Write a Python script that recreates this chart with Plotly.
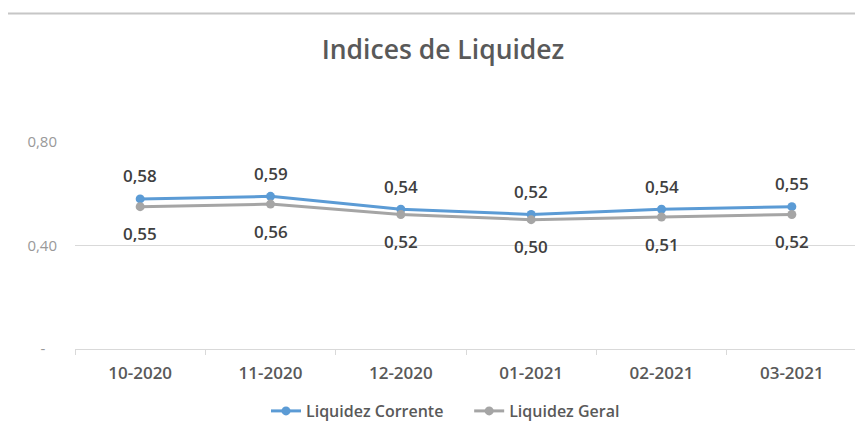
import plotly.graph_objects as go

categories = ["10-2020", "11-2020", "12-2020", "01-2021", "02-2021", "03-2021"]
liquidez_corrente = [0.58, 0.59, 0.54, 0.52, 0.54, 0.55]
liquidez_geral = [0.55, 0.56, 0.52, 0.50, 0.51, 0.52]
y_tickvals = [0, 0.4, 0.8]
y_ticktext = ["-\u00a0\u00a0\u00a0", "0,40", "0,80"]

BLUE = "#5B9BD5"
GRAY = "#A5A5A5"
FONT = "Open Sans"

# figure is offset by the page body's 8px margin, so size it accordingly
W, H = 855, 429
L, T = 67, 134
PW, PH = 782, 207

fig = go.Figure()
fig.add_trace(go.Scatter(x=categories, y=liquidez_corrente,
                         name="Liquidez Corrente" + "\u00a0" * 5,
                         mode="lines+markers", line=dict(color=BLUE, width=3),
                         marker=dict(color=BLUE, size=9)))
fig.add_trace(go.Scatter(x=categories, y=liquidez_geral, name="Liquidez Geral",
                         mode="lines+markers", line=dict(color=GRAY, width=3),
                         marker=dict(color=GRAY, size=9)))

annotations = []
for c, v in zip(categories, liquidez_corrente):
    annotations.append(dict(x=c, y=v, text=f"{v:.2f}".replace(".", ","), showarrow=False,
                            yshift=23, font=dict(family=FONT, size=17, color="#404040", weight=600)))
for c, v in zip(categories, liquidez_geral):
    annotations.append(dict(x=c, y=v, text=f"{v:.2f}".replace(".", ","), showarrow=False,
                            yshift=-27, font=dict(family=FONT, size=17, color="#404040", weight=600)))

fig.update_layout(
    width=W, height=H,
    margin=dict(l=L, r=W - L - PW, t=T, b=H - T - PH, autoexpand=False),
    paper_bgcolor="white", plot_bgcolor="white",
    separators=", ",
    title=dict(text="Indices de Liquidez", x=435 / W, xref="container", xanchor="center",
               y=1 - 42 / H, yref="container", yanchor="middle",
               font=dict(family=FONT, size=26.5, color="#595959", weight=600)),
    showlegend=True,
    legend=dict(orientation="h", x=437.5 / W, xref="container", xanchor="center",
                y=1 - 403 / H, yref="container", yanchor="middle",
                font=dict(family=FONT, size=16, color="#595959", weight=600),
                itemwidth=30, tracegroupgap=0),
    annotations=annotations,
    shapes=[dict(type="line", xref="paper", yref="paper", x0=-L / PW, x1=1.02,
                 y0=(T + PH - 5.5) / PH, y1=(T + PH - 5.5) / PH,
                 line=dict(color="#C6C6C6", width=2))],
)
fig.update_xaxes(type="category", range=[-0.5, 5.5], showgrid=False, showline=True,
                 linecolor="#D9D9D9", linewidth=1,
                 ticks="outside", tickson="boundaries", ticklen=5, tickcolor="#D9D9D9",
                 ticklabelstandoff=9,
                 tickfont=dict(family=FONT, size=17, color="#595959", weight=600), fixedrange=True)
fig.update_yaxes(range=[0, 0.8], tickvals=y_tickvals, ticktext=y_ticktext, showgrid=True,
                 gridcolor="#D9D9D9", gridwidth=1, zeroline=False, showline=False,
                 ticklabelstandoff=17,
                 tickfont=dict(family=FONT, size=15, color="#999999"), fixedrange=True)

fig.write_html("out.html")
